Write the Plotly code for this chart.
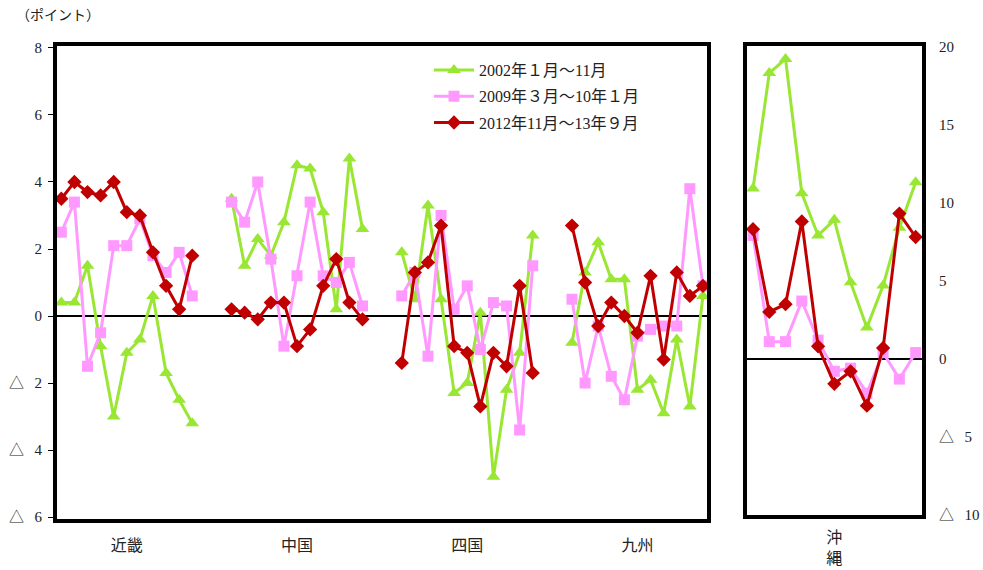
import plotly.graph_objects as go

# ---- data ----
regions = ["近畿", "中国", "四国", "九州"]
okinawa_label = "沖<br>縄"
series_names = ["2002年１月～11月", "2009年３月～10年１月", "2012年11月～13年９月"]

kinki_2002 = [0.4, 0.4, 1.5, -0.9, -3.0, -1.1, -0.7, 0.6, -1.7, -2.5, -3.2]
kinki_2009 = [2.5, 3.4, -1.5, -0.5, 2.1, 2.1, 2.9, 1.8, 1.3, 1.9, 0.6]
kinki_2012 = [3.5, 4.0, 3.7, 3.6, 4.0, 3.1, 3.0, 1.9, 0.9, 0.2, 1.8]

chugoku_2002 = [3.5, 1.5, 2.3, 1.8, 2.8, 4.5, 4.4, 3.1, 0.2, 4.7, 2.6]
chugoku_2009 = [3.4, 2.8, 4.0, 1.7, -0.9, 1.2, 3.4, 1.2, 1.0, 1.6, 0.3]
chugoku_2012 = [0.2, 0.1, -0.1, 0.4, 0.4, -0.9, -0.4, 0.9, 1.7, 0.4, -0.1]

shikoku_2002 = [1.9, 0.5, 3.3, 0.5, -2.3, -2.0, 0.1, -4.8, -2.2, -1.1, 2.4]
shikoku_2009 = [0.6, 1.3, -1.2, 3.0, 0.2, 0.9, -1.0, 0.4, 0.3, -3.4, 1.5]
shikoku_2012 = [-1.4, 1.3, 1.6, 2.7, -0.9, -1.1, -2.7, -1.1, -1.5, 0.9, -1.7]

kyushu_2002 = [-0.8, 1.3, 2.2, 1.1, 1.1, -2.2, -1.9, -2.9, -0.7, -2.7, 0.6]
kyushu_2009 = [0.5, -2.0, -0.3, -1.8, -2.5, -0.6, -0.4, -0.3, -0.3, 3.8, 0.9]
kyushu_2012 = [2.7, 1.0, -0.3, 0.4, 0.0, -0.5, 1.2, -1.3, 1.3, 0.6, 0.9]

okinawa_2002 = [10.9, 18.3, 19.2, 10.6, 7.9, 8.9, 4.9, 2.0, 4.7, 8.4, 11.3]
okinawa_2009 = [7.9, 1.1, 1.1, 3.7, 1.2, -0.8, -0.6, -2.2, 0.4, -1.3, 0.4]
okinawa_2012 = [8.3, 3.0, 3.5, 8.8, 0.8, -1.6, -0.8, -3.0, 0.7, 9.3, 7.8]

SP = "\u2002\u2009"
left_tickvals = [-6, -4, -2, 0, 2, 4, 6, 8]
left_ticktext = ["△" + SP + "6", "△" + SP + "4", "△" + SP + "2", "0", "2", "4", "6", "8"]
right_tickvals = [-10, -5, 0, 5, 10, 15, 20]
right_ticktext = ["△" + SP + "10", "△" + SP + "5", "0", "5", "10", "15", "20"]

# ---- style ----
colors = ["#99E633", "#FF99FF", "#C00000"]
symbols = ["triangle-up", "square", "diamond"]
msizes = [12, 11, 11]
FONT = "Liberation Serif, 'Noto Sans CJK JP', serif"

left_groups = [
    [kinki_2002, chugoku_2002, shikoku_2002, kyushu_2002],
    [kinki_2009, chugoku_2009, shikoku_2009, kyushu_2009],
    [kinki_2012, chugoku_2012, shikoku_2012, kyushu_2012],
]
okinawa = [okinawa_2002, okinawa_2009, okinawa_2012]

GAP = 2
fig = go.Figure()
for s in range(3):
    xs, ys = [], []
    for g, vals in enumerate(left_groups[s]):
        base = g * (len(vals) + GAP)
        for i, v in enumerate(vals):
            xs.append(base + i)
            ys.append(v)
        xs.append(None)
        ys.append(None)
    fig.add_trace(go.Scatter(
        x=xs, y=ys, mode="lines+markers", name=series_names[s],
        line=dict(color=colors[s], width=3),
        marker=dict(symbol=symbols[s], size=msizes[s], color=colors[s]),
        connectgaps=False, legendgroup=str(s), xaxis="x", yaxis="y"))

for s in range(3):
    fig.add_trace(go.Scatter(
        x=list(range(len(okinawa[s]))), y=okinawa[s], mode="lines+markers",
        name=series_names[s], showlegend=False,
        line=dict(color=colors[s], width=3),
        marker=dict(symbol=symbols[s], size=msizes[s], color=colors[s]),
        legendgroup=str(s), xaxis="x2", yaxis="y2"))

n = len(kinki_2002)
ntot = 4 * n + 3 * GAP
centers = [g * (n + GAP) + (n - 1) / 2 for g in range(4)]

W, H = 983, 570
ml, mr, mt, mb = 57, 61, 46, 51
pw = W - ml - mr
ph = H - mt - mb

fig.update_layout(
    width=W, height=H,
    margin=dict(l=ml, r=mr, t=mt, b=mb, autoexpand=False),
    paper_bgcolor="white", plot_bgcolor="white",
    font=dict(family=FONT, size=15, color="#222"),
    showlegend=True,
    legend=dict(x=(429 - ml) / pw, y=(H - mb - 53) / ph, xanchor="left", yanchor="top",
                bgcolor="rgba(0,0,0,0)", font=dict(size=16, family=FONT),
                tracegroupgap=2.5, itemwidth=40),
    xaxis=dict(domain=[0, (707 - ml) / pw], range=[-0.33, ntot - 1 + 0.31],
               tickvals=centers, ticktext=regions, ticks="", tickfont=dict(size=16),
               ticklabelstandoff=9, automargin=False,
               showline=True, linewidth=4, linecolor="black", mirror=True,
               showgrid=False, zeroline=False, fixedrange=True),
    yaxis=dict(domain=[0, 1], range=[-6.059, 8.059], tickvals=left_tickvals, ticktext=left_ticktext,
               ticks="outside", ticklen=5, tickcolor="black", tickwidth=1, automargin=False,
               ticklabelstandoff=3,
               showline=True, linewidth=4, linecolor="black", mirror=True,
               showgrid=False, zeroline=True, zerolinecolor="black", zerolinewidth=2),
    xaxis2=dict(domain=[(747 - ml) / pw, 1], range=[-0.37, n - 1 + 0.39], anchor="y2",
                tickvals=[(n - 1) / 2], ticktext=[okinawa_label], ticks="", tickfont=dict(size=16),
                ticklabelstandoff=5, automargin=False,
                showline=True, linewidth=4, linecolor="black", mirror=True,
                showgrid=False, zeroline=False),
    yaxis2=dict(domain=[(H - mb - 515) / ph, 1], range=[-10, 20.03], anchor="x2", side="right",
                tickvals=right_tickvals, ticktext=right_ticktext, automargin=False,
                ticks="outside", ticklen=10, tickcolor="rgba(0,0,0,0)",
                showline=True, linewidth=4, linecolor="black", mirror=True,
                showgrid=False, zeroline=True, zerolinecolor="black", zerolinewidth=1.5),
    annotations=[dict(text="（ポイント）", xref="paper", yref="paper",
                      x=(14 - ml) / pw, y=(H - mb - 16) / ph, xanchor="left", yanchor="middle",
                      showarrow=False, font=dict(size=14, family=FONT))],
)

fig.write_html("out.html", config={"displayModeBar": False},
               post_script="document.body.style.margin='0';")
